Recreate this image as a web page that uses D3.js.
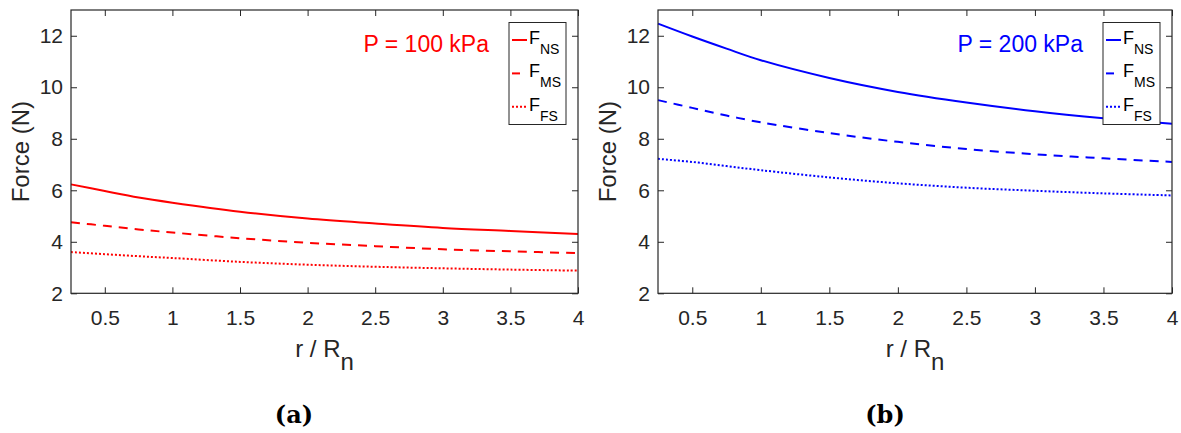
<!DOCTYPE html>
<html>
<head>
<meta charset="utf-8">
<script src="https://cdn.jsdelivr.net/npm/d3@7"></script>
<style>
  html, body { margin: 0; padding: 0; background: #fff; }
  svg { display: block; }
  .tick text { font-family: "Liberation Sans", Arial, sans-serif; font-size: 21px; fill: #262626; }
  .tick line { stroke: #262626; }
  .axis-label { font-family: "Liberation Sans", Arial, sans-serif; font-size: 24px; fill: #262626; }
  .caption { font-family: "DejaVu Serif", serif; font-weight: bold; font-size: 24px; fill: #000; }
</style>
</head>
<body>
<div id="chart"></div>
<script>
// r / Rn sample positions
const rValues = [0.25, 0.5, 0.75, 1, 1.5, 2, 2.5, 3, 3.5, 4];

// P = 100 kPa
const fNS100 = [6.23, 5.97, 5.72, 5.52, 5.17, 4.9, 4.71, 4.54, 4.42, 4.3];
const fMS100 = [4.76, 4.62, 4.48, 4.36, 4.14, 3.96, 3.83, 3.71, 3.63, 3.56];
const fFS100 = [3.6, 3.52, 3.44, 3.37, 3.22, 3.11, 3.03, 2.97, 2.92, 2.88];

// P = 200 kPa
const fNS200 = [12.47, 11.97, 11.5, 11.05, 10.36, 9.82, 9.41, 9.07, 8.8, 8.58];
const fMS200 = [9.5, 9.2, 8.9, 8.64, 8.22, 7.88, 7.6, 7.4, 7.24, 7.1];
const fFS200 = [7.22, 7.1, 6.94, 6.78, 6.5, 6.27, 6.1, 5.98, 5.88, 5.8];

const xTicks = [0.5, 1, 1.5, 2, 2.5, 3, 3.5, 4];
const yTicks = [2, 4, 6, 8, 10, 12];
const seriesNames = ['NS', 'MS', 'FS'];
const dashes = [null, '9,7', '2,2'];

const width = 1181, height = 433;
const svg = d3.select('#chart').append('svg')
  .attr('width', width)
  .attr('height', height);

const panels = [
  { x0: 71, x1: 578, cx: 294, color: '#ff0000', label: 'P = 100 kPa', caption: '(a)', series: [fNS100, fMS100, fFS100] },
  { x0: 658, x1: 1172, cx: 885, color: '#0000ff', label: 'P = 200 kPa', caption: '(b)', series: [fNS200, fMS200, fFS200] }
];
const yTop = 10, yBottom = 293.3;

panels.forEach(p => {
  const x = d3.scaleLinear().domain([0.25, 4]).range([p.x0, p.x1]);
  const y = d3.scaleLinear().domain([2, 13]).range([yBottom, yTop]);
  const g = svg.append('g');

  // axes, ticks pointing inward on all four sides
  g.append('g')
    .attr('transform', 'translate(0,' + yBottom + ')')
    .call(d3.axisBottom(x).tickValues(xTicks).tickFormat(d => String(d)).tickSizeInner(-6).tickSizeOuter(0).tickPadding(17))
    .call(s => s.select('.domain').remove());
  g.append('g')
    .attr('transform', 'translate(0,' + yTop + ')')
    .call(d3.axisTop(x).tickValues(xTicks).tickFormat('').tickSizeInner(-6).tickSizeOuter(0))
    .call(s => s.select('.domain').remove());
  g.append('g')
    .attr('transform', 'translate(' + p.x0 + ',0)')
    .call(d3.axisLeft(y).tickValues(yTicks).tickSizeInner(-6).tickSizeOuter(0).tickPadding(8))
    .call(s => s.select('.domain').remove());
  g.append('g')
    .attr('transform', 'translate(' + p.x1 + ',0)')
    .call(d3.axisRight(y).tickValues(yTicks).tickFormat('').tickSizeInner(-6).tickSizeOuter(0))
    .call(s => s.select('.domain').remove());

  const line = d3.line()
    .x((d, i) => x(rValues[i]))
    .y(d => y(d))
    .curve(d3.curveCatmullRom);

  p.series.forEach((vals, i) => {
    g.append('path')
      .datum(vals)
      .attr('d', line)
      .attr('fill', 'none')
      .attr('stroke', p.color)
      .attr('stroke-width', 2)
      .attr('stroke-dasharray', dashes[i]);
  });

  g.append('rect')
    .attr('x', p.x0).attr('y', yTop)
    .attr('width', p.x1 - p.x0).attr('height', yBottom - yTop)
    .attr('fill', 'none').attr('stroke', '#262626').attr('stroke-width', 1.2);

  // pressure annotation
  g.append('text')
    .attr('x', p.x1 - 89).attr('y', 52)
    .attr('text-anchor', 'end')
    .attr('fill', p.color)
    .style('font-family', '"Liberation Sans", Arial, sans-serif')
    .style('font-size', '23px')
    .text(p.label);

  // legend
  const lx = p.x1 - 69, ly = 22.5;
  const leg = g.append('g');
  leg.append('rect')
    .attr('x', lx).attr('y', ly).attr('width', 57).attr('height', 102)
    .attr('fill', '#fff').attr('stroke', '#262626').attr('stroke-width', 1);
  seriesNames.forEach((name, i) => {
    const yy = ly + 17.5 + i * 33.4;
    leg.append('line')
      .attr('x1', lx + 3).attr('x2', lx + 18)
      .attr('y1', yy).attr('y2', yy)
      .attr('stroke', p.color).attr('stroke-width', 2)
      .attr('stroke-dasharray', i === 1 ? '8,7' : dashes[i]);
    const t = leg.append('text')
      .attr('x', lx + 20).attr('y', yy + 4)
      .style('font-family', '"Liberation Sans", Arial, sans-serif')
      .style('font-size', '18px')
      .attr('fill', '#000')
      .text('F');
    t.append('tspan')
      .attr('dy', 10)
      .style('font-size', '14px')
      .text(name);
  });

  // axis labels
  g.append('text')
    .attr('class', 'axis-label')
    .attr('transform', 'translate(' + (p.x0 - 50) + ',' + ((yTop + yBottom) / 2) + ') rotate(-90)')
    .attr('text-anchor', 'middle')
    .attr('dy', '0.35em')
    .text('Force (N)');
  const xl = g.append('text')
    .attr('class', 'axis-label')
    .attr('x', (p.x0 + p.x1) / 2).attr('y', 357)
    .attr('text-anchor', 'middle')
    .text('r / R');
  xl.append('tspan').attr('dy', 13).text('n');

  svg.append('text')
    .attr('class', 'caption')
    .attr('x', p.cx).attr('y', 423)
    .attr('text-anchor', 'middle')
    .text(p.caption);
});
</script>
</body>
</html>
